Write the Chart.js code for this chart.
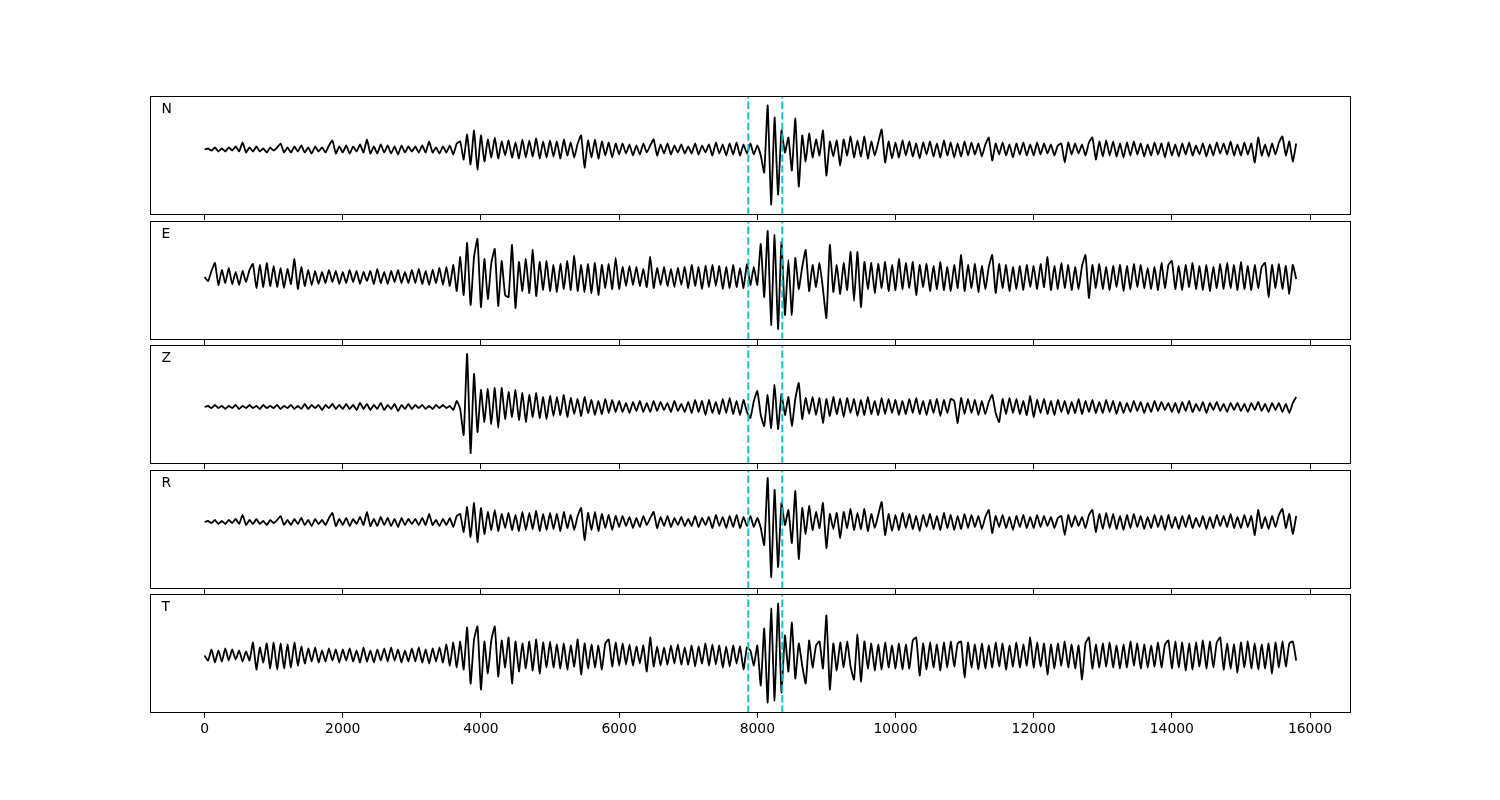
<!DOCTYPE html>
<html><head><meta charset="utf-8">
<script src="https://cdn.jsdelivr.net/npm/chart.js@4.4.1/dist/chart.umd.min.js"></script>
<style>
html,body{margin:0;padding:0;background:#fff;}
body{width:1500px;height:800px;position:relative;overflow:hidden;font-family:"DejaVu Sans",sans-serif;}
.panel{position:absolute;}
.lbl{position:absolute;font-family:"DejaVu Sans",sans-serif;font-size:13.9px;line-height:1;color:#000;white-space:nowrap;}
</style></head><body>
<script>
// ---------------- data ----------------
const componentNames = ['N', 'E', 'Z', 'R', 'T'];
const sampleInterval = 50;            // time units between samples
const pickTimes = [7870, 8362];       // dashed phase markers
const xTickValues = [0, 2000, 4000, 6000, 8000, 10000, 12000, 14000, 16000];

const traceN = [
  0, 1, -1, 2, -2, 1, -2, 2, -1, 3, -2, 7, -3, 2, -2, 3, -2, 1, -3, 2,
  -1, 2, 6, -3, 2, -3, 3, -2, 4, -3, 2, -4, 3, -2, 2, -3, 4, 9, -4, 3,
  -3, 4, -4, 3, -2, 5, -3, 10, -4, 3, -4, 5, -3, 4, -4, 3, -5, 4, -3, 3,
  -2, 3, -3, 4, -3, 8, -3, 2, -4, 3, -3, 4, -5, 6, 8, -10, 15, -15, 19, -20,
  14, -12, 10, -8, 12, -9, 8, -6, 9, -8, 7, -9, 10, -8, 9, -7, 11, -9, 8, -8,
  9, -7, 8, -9, 10, -6, 7, -8, 6, 14, -18, 9, -8, 10, -9, 8, -6, 7, -8, 6,
  -5, 6, -4, 5, -6, 4, -5, 6, -3, 4, 10, -6, 5, -4, 6, -5, 4, -3, 5, -4,
  3, -4, 6, -5, 4, -3, 5, -6, 7, -4, 5, -6, 6, -5, 7, -6, 5, -4, 6, -5,
  4, -6, -23, 44, -55, 32, -45, 19, -3, 12, -21, 31, -37, 14, -12, 16, -8, 10, -6, 19,
  -26, 8, -7, 9, -16, 10, -6, 13, -8, 9, -7, 13, -9, 8, -6, 7, 20, -13, 8, -9,
  7, -8, 9, -6, 8, -7, 6, -9, 7, -5, 8, -7, 6, -8, 9, -6, 7, -8, 6, -7,
  8, -6, 7, -5, 6, -7, 5, 12, -11, 6, -5, 7, -6, 5, -8, 6, -5, 7, -6, 5,
  -6, 7, -5, 6, -4, 5, -6, 4, 6, -13, 7, -5, 6, -4, 5, -6, 7, 12, -10, 8,
  -7, 9, -6, 8, -7, 6, -8, 7, -6, 8, -5, 6, -7, 5, -6, 7, -5, 6, -8, 7,
  -6, 5, -7, 6, -5, 7, -6, 4, -5, 6, -7, 5, -6, 7, -4, 6, -5, 8, -6, 5,
  -6, 7, -5, 6, -13, 12, -6, 5, -7, 6, -5, 7, 13, -6, 8, -12, 6
];

const traceE = [
  0, -4, 6, 14, -8, 7, -6, 9, -7, 5, -8, 6, -5, 7, 13, -11, 12, -10, 14, -9,
  11, -10, 9, -11, 8, -7, 18, -12, 10, -9, 7, -8, 6, -7, 5, -6, 7, -5, 6, -7,
  5, -6, 7, -5, 6, -7, 5, -4, 6, -7, 8, -6, 5, -7, 6, -5, 7, -6, 5, -6,
  7, -6, 8, -7, 6, -8, 7, -6, 9, -8, 10, -9, 12, -14, 20, -18, 34, -28, 20, 38,
  -30, 18, -22, 14, 28, -29, 16, -18, -20, 32, -31, 15, -14, 18, -16, 27, -19, 15, -13, 16,
  -14, 12, -15, 13, -12, 16, -13, 21, -14, 12, -15, 13, -16, 14, -18, 12, -11, 13, -12, 19,
  -12, 10, -9, 11, -8, 10, -9, 8, -10, 20, -11, 9, -8, 10, -9, 8, -10, 9, -8, 10,
  -11, 12, -9, 10, -12, 11, -10, 12, -9, 11, -12, 10, -11, 12, -10, 9, -11, 13, -8, 10,
  -8, 33, -20, 46, -48, 42, -52, 35, -38, 17, -38, 19, -12, 10, 27, -14, 12, -10, 14, -12,
  -41, 32, -15, 12, -17, 14, -13, 25, -24, 25, -30, 15, -12, 14, -16, 13, -11, 15, -14, 12,
  -13, 18, -12, 14, -11, 15, -18, 12, -10, 13, -14, 11, -12, 15, -13, 10, -14, 12, -11, 22,
  -14, 12, -11, 13, -15, 11, -12, 10, 22, -16, 13, -11, 12, -14, 10, -12, 11, -13, 12, -10,
  11, -12, 13, -10, 20, -13, 11, -12, 14, -11, 12, -13, 10, -12, 11, 22, -21, 12, -11, 13,
  -12, 10, -13, 11, -10, 12, -14, 11, -12, 13, -10, 12, -11, 9, -12, 10, -13, 14, -11, 12,
  16, -12, 11, -13, 12, -10, 14, -12, 11, -13, 12, -14, 10, -11, 13, -12, 14, -11, 12, -13,
  15, -12, 11, -13, 12, -11, 10, 14, -20, 12, -11, 13, -12, 11, -17, 12, -2
];

const traceZ = [
  0, 1, -1, 2, -1, 1, -2, 1, -1, 2, -2, 1, -1, 2, -1, 1, -2, 2, -1, 1,
  -1, 2, -2, 1, -1, 2, -2, 1, -2, 3, -2, 2, -1, 2, -3, 2, -1, 3, -2, 2,
  -2, 3, -2, 2, -3, 4, -2, 3, -3, 2, -2, 4, -3, 2, -2, 3, -4, 2, -2, 3,
  -2, 2, -1, 2, -2, 1, -2, 2, -1, 2, -1, 1, -3, 6, -2, -28, 53, -46, 33, -25,
  17, -15, 18, -17, 19, -21, 19, -12, 15, -10, 17, -13, 14, -15, 12, -10, 14, -11, 10, -12,
  11, -9, 10, -8, 12, -10, 9, -7, 8, -9, 10, -6, 7, -8, 6, -7, 8, -6, 7, -5,
  6, -5, 4, -6, 5, -4, 6, -5, 4, -5, 6, -4, 5, -3, 4, -5, 6, -4, 3, -5,
  5, -6, 7, -5, 6, -8, 7, -6, 5, -7, 8, -6, 9, -7, 6, -8, 7, -5, -11, 6,
  16, -8, -19, 12, -21, 22, -22, 13, -8, 10, -19, 8, 24, -12, 9, -7, 10, -8, 9, -16,
  8, -9, 10, -7, 8, -10, 9, -6, 8, -9, 7, -8, 10, -7, 6, -8, 9, -7, 8, -6,
  7, -8, 6, -7, 8, -6, 9, -7, 6, -8, 7, -6, 8, -9, 7, -6, 8, 6, -16, 9,
  -7, 8, -6, 7, -8, 6, -7, 5, 12, -6, -15, 8, -7, 9, -6, 8, -7, 6, -8, 11,
  -10, 7, -6, 8, -7, 6, -8, 7, -5, 6, -7, 5, -6, 8, -7, 6, -5, 7, -6, 5,
  -6, 7, -5, 6, -7, 5, -6, 4, -5, 6, -4, 5, -6, 4, -5, 6, -4, 5, -3, 4,
  -5, 4, -6, 5, -4, 6, -5, 3, -4, 5, -6, 4, -3, 5, -4, 3, -5, 4, -3, 4,
  -4, 3, -5, 4, -3, 5, -4, 3, -5, 4, -3, 4, -5, 3, -6, 4, 10
];

const traceR = [
  0, 1, -1, 2, -2, 1, -2, 2, -1, 3, -2, 7, -3, 2, -2, 3, -2, 1, -3, 2,
  -1, 2, 6, -3, 2, -3, 3, -2, 4, -3, 2, -4, 3, -2, 2, -3, 4, 9, -4, 3,
  -3, 4, -4, 3, -2, 5, -3, 10, -4, 3, -4, 5, -3, 4, -4, 3, -5, 4, -3, 3,
  -2, 3, -3, 4, -3, 8, -3, 2, -4, 3, -3, 4, -5, 6, 8, -10, 15, -15, 19, -20,
  14, -12, 10, -8, 12, -9, 8, -6, 9, -8, 7, -9, 10, -8, 9, -7, 11, -9, 8, -8,
  9, -7, 8, -9, 10, -6, 7, -8, 6, 14, -18, 9, -8, 10, -9, 8, -6, 7, -8, 6,
  -5, 6, -4, 5, -6, 4, -5, 6, -3, 4, 10, -6, 5, -4, 6, -5, 4, -3, 5, -4,
  3, -4, 6, -5, 4, -3, 5, -6, 7, -4, 5, -6, 6, -5, 7, -6, 5, -4, 6, -5,
  4, -6, -23, 44, -55, 32, -45, 19, -3, 12, -21, 31, -37, 14, -12, 16, -8, 10, -6, 19,
  -26, 8, -7, 9, -16, 10, -6, 13, -8, 9, -7, 13, -9, 8, -6, 7, 20, -13, 8, -9,
  7, -8, 9, -6, 8, -7, 6, -9, 7, -5, 8, -7, 6, -8, 9, -6, 7, -8, 6, -7,
  8, -6, 7, -5, 6, -7, 5, 12, -11, 6, -5, 7, -6, 5, -8, 6, -5, 7, -6, 5,
  -6, 7, -5, 6, -4, 5, -6, 4, 6, -13, 7, -5, 6, -4, 5, -6, 7, 12, -10, 8,
  -7, 9, -6, 8, -7, 6, -8, 7, -6, 8, -5, 6, -7, 5, -6, 7, -5, 6, -8, 7,
  -6, 5, -7, 6, -5, 7, -6, 4, -5, 6, -7, 5, -6, 7, -4, 6, -5, 8, -6, 5,
  -6, 7, -5, 6, -13, 12, -6, 5, -7, 6, -5, 7, 13, -6, 8, -12, 6
];

const traceT = [
  0, -5, 6, -7, 5, -6, 7, -5, 6, -4, 5, -6, 4, -5, 13, -14, 8, -7, 12, -13,
  13, -14, 12, -13, 11, -12, 13, -10, 9, -8, 7, -6, 8, -7, 5, -6, 7, -5, 6, -7,
  6, -5, 7, -6, 5, -7, 8, -6, 5, -7, 6, -5, 7, -6, 8, -5, 6, -7, 5, -6,
  7, -6, 8, -7, 6, -8, 7, -6, 8, -7, 11, -10, 13, -12, 14, -14, 28, -28, 16, 29,
  -34, 14, -18, 15, 29, -21, 15, -12, 18, -28, 14, -16, 12, -13, 14, -15, 16, -18, 13, -12,
  14, -12, 11, -13, 12, -14, 10, -11, 16, -19, 12, -13, 11, -12, 10, -14, 12, 16, -11, 13,
  -10, 12, -9, 11, -10, 9, -8, 10, -16, 18, -11, 9, -10, 8, -9, 10, -8, 11, -9, 8,
  -9, 10, -11, 9, -8, 12, -10, 11, -9, 10, -12, 9, -11, 10, -8, 9, -14, 8, 5, -10,
  10, -30, 27, -47, 47, -45, 52, -37, 20, -16, 33, -23, 12, -10, -28, 15, -12, 10, 14, -13,
  40, -34, 12, -15, 13, -12, 14, -11, -24, 21, -26, 14, -13, 12, -15, 11, -14, 13, -12, 10,
  -13, 12, -14, 11, -13, 15, 18, -20, 12, -14, 13, -12, 11, -15, 13, -12, 14, -11, 12, 14,
  -22, 13, -12, 11, -14, 12, -13, 10, -12, 13, -11, 12, -14, 10, -11, 13, -12, 11, -10, 18,
  -12, 13, -11, 12, -19, 11, -13, 12, -10, 14, -12, 11, -13, 10, -24, 12, 18, -13, 11, -12,
  12, -11, 13, -12, 10, -13, 11, -12, 14, -10, 12, -13, 11, -12, 10, -11, 13, -12, 11, 15,
  -13, 14, -12, 13, -15, 12, -14, 13, -11, 15, -13, 14, -12, 13, 18, -14, 12, -13, 11, -17,
  13, -12, 14, -13, 12, -14, 11, -13, 12, -18, 13, -12, 14, -11, 12, 14, -5
];

const traces = [traceN, traceE, traceZ, traceR, traceT];

// ---------------- layout / style ----------------
const xLimits = { min: -790, max: 16593 };
const panelLayout = [
  { top: 96,  yMin: -65.5, yMax: 53.5 },
  { top: 221, yMin: -63,   yMax: 56 },
  { top: 345, yMin: -57,   yMax: 62 },
  { top: 470, yMin: -67,   yMax: 52 },
  { top: 594, yMin: -57.5, yMax: 61.5 }
];
const panelLeft = 150, panelWidth = 1201, panelHeight = 119;
const traceColor = '#000000';
const pickColor = '#17becf';

const framePlugin = {
  id: 'frame',
  afterDraw(chart) {
    const { ctx, chartArea: a } = chart;
    ctx.save();
    ctx.strokeStyle = '#000';
    ctx.lineWidth = 1;
    ctx.strokeRect(a.left + 0.5, a.top + 0.5, a.right - a.left - 1, a.bottom - a.top - 1);
    ctx.restore();
  }
};

componentNames.forEach((name, i) => {
  const lay = panelLayout[i];
  const isBottom = i === componentNames.length - 1;
  const axisH = isBottom ? 40 : 6;
  const wrap = document.createElement('div');
  wrap.className = 'panel';
  wrap.style.left = panelLeft + 'px';
  wrap.style.top = lay.top + 'px';
  wrap.style.width = panelWidth + 'px';
  wrap.style.height = (panelHeight + axisH) + 'px';
  const cv = document.createElement('canvas');
  cv.width = panelWidth; cv.height = panelHeight + axisH;
  cv.style.width = panelWidth + 'px'; cv.style.height = (panelHeight + axisH) + 'px';
  wrap.appendChild(cv);
  document.body.appendChild(wrap);

  const lbl = document.createElement('div');
  lbl.className = 'lbl';
  lbl.textContent = name;
  lbl.style.left = '161.5px';
  lbl.style.top = (lay.top + 5.5) + 'px';
  document.body.appendChild(lbl);

  const values = traces[i];
  const wave = values.map((v, k) => ({ x: k * sampleInterval, y: v }));

  const pickSets = pickTimes.map(t => ({
    data: [{ x: t, y: lay.yMin }, { x: t, y: lay.yMax }],
    borderColor: pickColor, borderWidth: 2, borderDash: [7.4, 3.2],
    pointRadius: 0, tension: 0, fill: false
  }));

  new Chart(cv, {
    type: 'line',
    data: {
      datasets: [
        ...pickSets,
        { data: wave, borderColor: traceColor, borderWidth: 1.8, pointRadius: 0,
          tension: 0.15, fill: false, borderJoinStyle: 'round' }
      ]
    },
    options: {
      responsive: false, animation: false, devicePixelRatio: 1, events: [],
      layout: { padding: 0 },
      plugins: { legend: { display: false }, tooltip: { enabled: false } },
      scales: {
        x: {
          type: 'linear', min: xLimits.min, max: xLimits.max,
          afterBuildTicks: s => { s.ticks = xTickValues.map(v => ({ value: v })); },
          afterFit: s => { s.height = axisH; },
          border: { display: false },
          grid: { display: true, drawOnChartArea: false, drawTicks: true, tickLength: 5,
                  color: '#000', lineWidth: 1 },
          ticks: { display: isBottom, autoSkip: false, maxRotation: 0, padding: 3,
                   color: '#000', font: { family: 'DejaVu Sans', size: 13.9 },
                   callback: v => String(v) }
        },
        y: { display: false, min: lay.yMin, max: lay.yMax }
      }
    },
    plugins: [framePlugin]
  });
});
</script>
</body></html>
